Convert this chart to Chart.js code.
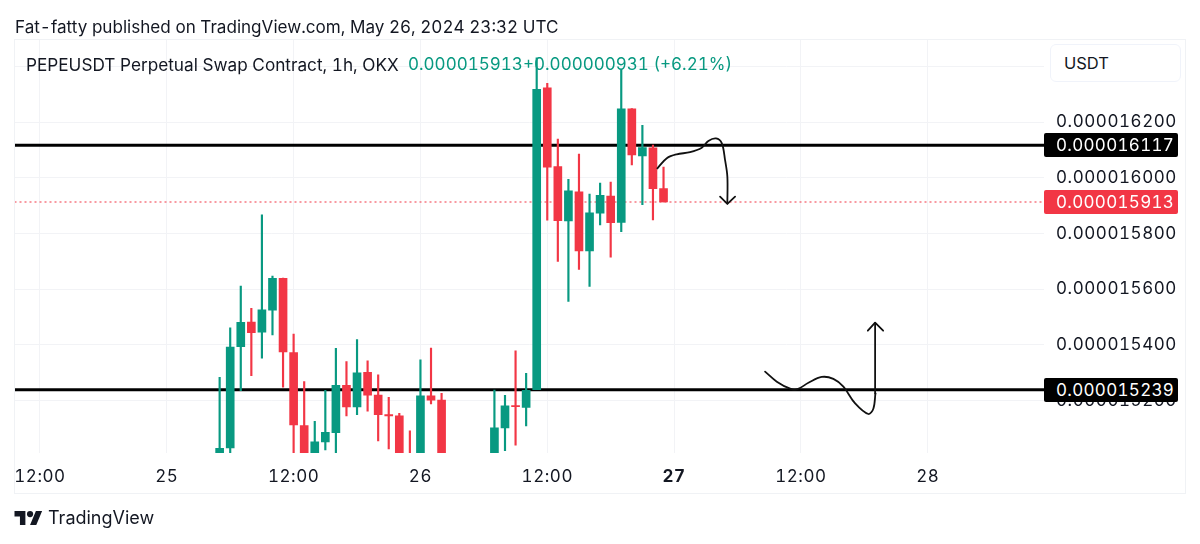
<!DOCTYPE html>
<html>
<head>
<meta charset="utf-8">
<script src="https://cdn.jsdelivr.net/npm/chart.js@4/dist/chart.umd.min.js"></script>
<style>
html,body{margin:0;padding:0;background:#fff;width:1200px;height:544px;overflow:hidden}
body{font-family:Inter,"Noto Sans",sans-serif;color:#131722;font-feature-settings:"tnum"}
canvas{position:absolute;left:0;top:0}
.t{position:absolute;white-space:nowrap;line-height:1}
.frame{position:absolute;left:14px;top:39px;width:1170px;height:453px;border:1px solid #f0f2f5;pointer-events:none}
.tag{position:absolute;left:1044px;width:134px;height:24px;line-height:24px;border-radius:2px;color:#fff;font-size:17px;letter-spacing:.3px;text-align:left;text-indent:12px}
.btn{position:absolute;left:1050px;top:44px;width:129px;height:36px;background:#fff;border:1px solid #f0f3fa;border-radius:6px;font-size:16.5px;line-height:36px;text-indent:13px}
</style>
</head>
<body>
<canvas id="c" width="1200" height="544"></canvas>
<div class="frame"></div>
<div class="t" id="pub" style="left:15px;top:18px;font-size:17.1px">Fat-fatty published on TradingView.com, May 26, 2024 23:32 UTC</div>
<div class="t" id="leg" style="left:26px;top:56px;font-size:17.2px">PEPEUSDT Perpetual Swap Contract, 1h, OKX</div>
<div class="t" id="pr" style="left:408px;top:56px;font-size:17px;color:#089981">0.000015913</div>
<div class="t" id="chg" style="left:523px;top:56px;font-size:17px;color:#089981">+0.000000931 (+6.21%)</div>
<div class="btn">USDT</div>
<div class="tag" style="top:133px;background:#000">0.000016117</div>
<div class="tag" style="top:190px;background:#f23645">0.000015913</div>
<div class="tag" style="top:378px;background:#000">0.000015239</div>
<svg style="position:absolute;left:14px;top:511px" width="29" height="14" viewBox="0 4 36 18"><path fill="#131722" d="M14 22H7V11H0V4h14v18zM28 22h-8l7.5-18h8L28 22z"/><circle fill="#131722" cx="20" cy="8" r="4"/></svg>
<div class="t" id="tv" style="left:48px;top:509px;font-size:18px">TradingView</div>
<script>
// All prices are in units of 0.000000001 USDT.
const PRICE_UNIT = 1e-9;
// Hour index: 0 = 24 May 12:00
const hours = [17,18,19,20,21,22,23,24,25,26,27,28,29,30,31,32,33,34,35,36,37,38,
               43,44,45,46,47,48,49,50,51,52,53,54,55,56,57,58,59];
const opens = [14987,15030,15394,15482,15446,15525,15639,15372,15110,14995,15052,15085,15255,15177,15302,15220,15150,15145,14985,14990,15217,15202,
               15013,15102,15182,15176,15239,16323,16040,15845,15949,15737,15873,15934,15840,16247,16078,16107,15961];
const highs = [15284,15461,15611,15531,15867,15647,15640,15439,15268,15126,15237,15388,15340,15419,15343,15293,15212,15154,15092,15346,15389,15226,
               15238,15219,15379,15298,16430,16339,16139,15994,16085,15941,15981,15984,16387,16248,16188,16117,16038];
const lows  = [14960,15000,15236,15290,15352,15436,15248,14990,14970,14980,15023,14990,15145,15150,15162,15055,15027,14980,14950,14980,15188,14980,
               15013,15020,15040,15109,15239,15848,15700,15556,15671,15610,15831,15715,15806,16046,15903,15849,15913];
const closes= [15029,15392,15481,15444,15526,15639,15375,15113,14990,15052,15086,15255,15177,15300,15220,15150,15145,14990,14960,15217,15202,14990,
               15102,15181,15178,15237,16317,16038,15846,15953,15737,15874,15937,15839,16247,16082,16108,15961,15913];
const yMin = 15012, yMax = 16498;
const xMin = -2.41, xMax = 95;
const priceTicks = [15200,15400,15600,15800,16000,16200,16400];
const timeTickHours = [0,12,24,36,48,60,72,84];
const timeTickLabels = ['12:00','25','12:00','26','12:00','27','12:00','28'];
const supportResistance = [16117,15239];
const lastPrice = 15913;
const sellHourPath = [58.42,59.31,60.25,61.51,62.62,63.24,63.97,64.51,64.82,65.04,65.04];
const sellPricePath = [16034,16070,16084,16092,16108,16132,16141,16124,16064,16004,15908];
const sellHeadHours = [64.35,65.04,65.77];
const sellHeadPrices = [15932,15906,15932];
const buyHourPath = [68.61,69.72,70.98,71.67,72.71,73.97,75.07,76.02,77.13,78.38,78.86,79.05];
const buyPricePath = [15304,15268,15243,15241,15264,15285,15278,15250,15190,15152,15172,15226];
const buyShaftHours = [79.05,79.02];
const buyShaftPrices = [15226,15478];
const buyHeadHours = [78.33,79.02,79.78];
const buyHeadPrices = [15451,15480,15451];

const UP = '#089981', DOWN = '#f23645';
const colors = closes.map((c,i)=> c >= opens[i] ? UP : DOWN);
const zip = (xs,ys)=>xs.map((x,i)=>({x,y:ys[i]}));
const hline = (v,color,width,dash,order)=>({type:'line',data:[{x:xMin,y:v},{x:xMax,y:v}],borderColor:color,borderWidth:width,borderDash:dash||[],pointRadius:0,order,tension:0});
const ink = (xs,ys,t)=>({type:'line',data:zip(xs,ys),borderColor:'#111',borderWidth:1.8,pointRadius:0,tension:t,order:-1,borderCapStyle:'round',borderJoinStyle:'round'});

// Wider tick glyph spacing, as in the reference's tabular figures
const spacing = {id:'spacing',beforeDraw(chart){chart.ctx.letterSpacing='0.55px';}};

new Chart(document.getElementById('c'),{
  type:'bar',
  plugins:[spacing],
  data:{datasets:[
    {data:hours.map((h,i)=>({x:h,y:[lows[i],highs[i]]})),backgroundColor:colors,barThickness:1.5,grouped:false,order:1},
    {data:hours.map((h,i)=>({x:h,y:[opens[i],closes[i]]})),backgroundColor:colors,barThickness:8,grouped:false,order:0},
    hline(supportResistance[0],'#000',3,null,2),
    hline(supportResistance[1],'#000',3,null,2),
    hline(lastPrice,DOWN,1.2,[2,3],2),
    ink(sellHourPath,sellPricePath,0.35),
    ink(sellHeadHours,sellHeadPrices,0),
    ink(buyHourPath,buyPricePath,0.35),
    ink(buyShaftHours,buyShaftPrices,0),
    ink(buyHeadHours,buyHeadPrices,0)
  ]},
  options:{
    responsive:false,animation:false,
    layout:{padding:{left:14.5,top:39,right:15,bottom:51}},
    plugins:{legend:{display:false},tooltip:{enabled:false},title:{display:false}},
    scales:{
      x:{type:'linear',min:xMin,max:xMax,offset:false,
        afterBuildTicks:a=>{a.ticks=timeTickHours.map(v=>({value:v}));},
        afterFit:a=>{a.height=40;},
        grid:{color:'#f2f3f6',lineWidth:1,offset:false,drawTicks:false},
        border:{display:false},
        ticks:{autoSkip:false,maxRotation:0,padding:14,
          callback:v=>timeTickLabels[timeTickHours.indexOf(v)],
          color:'#131722',
          font:ctx=>({family:'Inter',size:17,weight:ctx.tick&&ctx.tick.value===60?'700':'400'})}
      },
      y:{type:'linear',position:'right',min:yMin,max:yMax,
        afterBuildTicks:a=>{a.ticks=priceTicks.map(v=>({value:v}));},
        afterFit:a=>{a.width=141;},
        grid:{color:'#f2f3f6',lineWidth:1,drawTicks:false},
        border:{display:false},
        ticks:{padding:12,color:'#131722',font:{family:'Inter',size:17},
          callback:v=>(v*PRICE_UNIT).toFixed(9)}
      }
    }
  }
});
</script>
</body>
</html>
